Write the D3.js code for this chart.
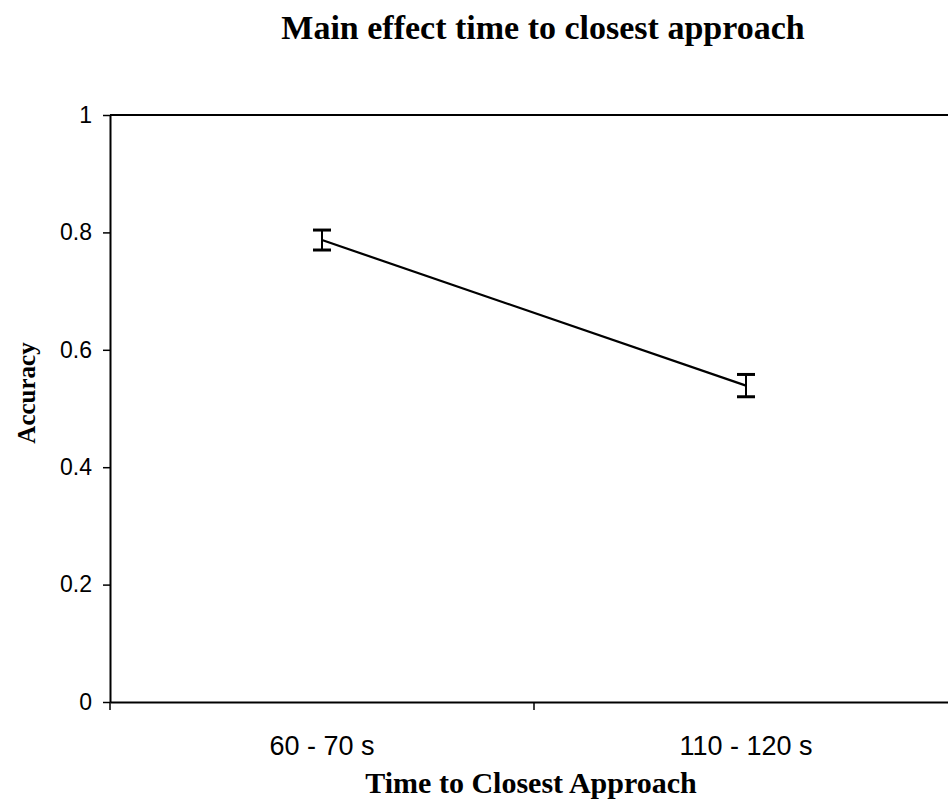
<!DOCTYPE html>
<html>
<head>
<meta charset="utf-8">
<script src="https://cdn.jsdelivr.net/npm/d3@7"></script>
<style>
	body { margin: 0; background: #fff; }
	svg { display: block; }
	.tick-label { font-family: "Liberation Sans", Arial, sans-serif; fill: #000; }
	.serif-title { font-family: "Liberation Serif", "Times New Roman", serif; font-weight: bold; fill: #000; }
</style>
</head>
<body>
<div id="svg-container"></div>
<script>
// chart values
var categories = ["60 - 70 s", "110 - 120 s"];
var accuracy = [0.787, 0.539];
var stdErr = [0.017, 0.019];
var yTicks = [0, 0.2, 0.4, 0.6, 0.8, 1];
var yTickLabels = ["0", "0.2", "0.4", "0.6", "0.8", "1"];

var width = 948, height = 810;
var margin = {top: 115, left: 110, bottom: 702, right: 958};

var svg = d3.select('#svg-container')
	.append('svg')
	.attr('width', width)
	.attr('height', height);

var x = d3.scaleBand()
	.domain(categories)
	.range([margin.left, margin.right])
	.padding(0);

var y = d3.scaleLinear()
	.domain([0, 1])
	.range([margin.bottom, margin.top]);

// frame: top border (right edge runs off the page)
svg.append('line')
	.attr('x1', margin.left).attr('x2', margin.right)
	.attr('y1', y(1)).attr('y2', y(1))
	.attr('stroke', '#000').attr('stroke-width', 2);

// y axis
var yAxis = svg.append('g')
	.attr('transform', 'translate(' + margin.left + ',0)')
	.call(d3.axisLeft(y)
		.tickValues(yTicks)
		.tickFormat(function(d, i){ return yTickLabels[i]; })
		.tickSize(7)
		.tickPadding(11)
		.tickSizeOuter(0));
yAxis.select('.domain').attr('stroke-width', 2);
yAxis.selectAll('.tick line').attr('stroke-width', 1.5);
yAxis.selectAll('text')
	.attr('class', 'tick-label')
	.style('font-size', '23px');

// x axis, labels centred in each band
var xAxis = svg.append('g')
	.attr('transform', 'translate(0,' + margin.bottom + ')')
	.call(d3.axisBottom(x)
		.tickSize(0)
		.tickPadding(34)
		.tickSizeOuter(0));
xAxis.select('.domain').attr('stroke-width', 2);
xAxis.selectAll('text')
	.attr('class', 'tick-label')
	.style('font-size', '27px');

// tick marks between categories
var bounds = [x(categories[0])].concat(categories.map(function(d){ return x(d) + x.bandwidth(); }));
xAxis.selectAll('.bound')
	.data(bounds)
	.enter()
	.append('line')
	.attr('class', 'bound')
	.attr('x1', function(d){ return d; })
	.attr('x2', function(d){ return d; })
	.attr('y1', 0)
	.attr('y2', 8)
	.attr('stroke', '#000')
	.attr('stroke-width', 1.5);

var points = categories.map(function(c, i){
	return {cat: c, v: accuracy[i], e: stdErr[i]};
});

var cx = function(d){ return x(d.cat) + x.bandwidth() / 2; };

// mean line
var line = d3.line()
	.x(cx)
	.y(function(d){ return y(d.v); });

svg.append('path')
	.datum(points)
	.attr('d', line)
	.attr('fill', 'none')
	.attr('stroke', '#000')
	.attr('stroke-width', 2.2);

// error bars
var bars = svg.selectAll('.err')
	.data(points)
	.enter()
	.append('g')
	.attr('class', 'err');

bars.append('line')
	.attr('x1', cx).attr('x2', cx)
	.attr('y1', function(d){ return y(d.v + d.e); })
	.attr('y2', function(d){ return y(d.v - d.e); })
	.attr('stroke', '#000')
	.attr('stroke-width', 2);

[1, -1].forEach(function(sgn){
	bars.append('line')
		.attr('x1', function(d){ return cx(d) - 9; })
		.attr('x2', function(d){ return cx(d) + 9; })
		.attr('y1', function(d){ return y(d.v + sgn * d.e); })
		.attr('y2', function(d){ return y(d.v + sgn * d.e); })
		.attr('stroke', '#000')
		.attr('stroke-width', 3);
});

// titles
svg.append('text')
	.attr('class', 'serif-title')
	.attr('x', 543)
	.attr('y', 39)
	.attr('text-anchor', 'middle')
	.style('font-size', '34px')
	.text('Main effect time to closest approach');

svg.append('text')
	.attr('class', 'serif-title')
	.attr('x', 531)
	.attr('y', 793)
	.attr('text-anchor', 'middle')
	.style('font-size', '30px')
	.text('Time to Closest Approach');

svg.append('text')
	.attr('class', 'serif-title')
	.attr('transform', 'translate(35,393) rotate(-90)')
	.attr('text-anchor', 'middle')
	.style('font-size', '25px')
	.text('Accuracy');
</script>
</body>
</html>
